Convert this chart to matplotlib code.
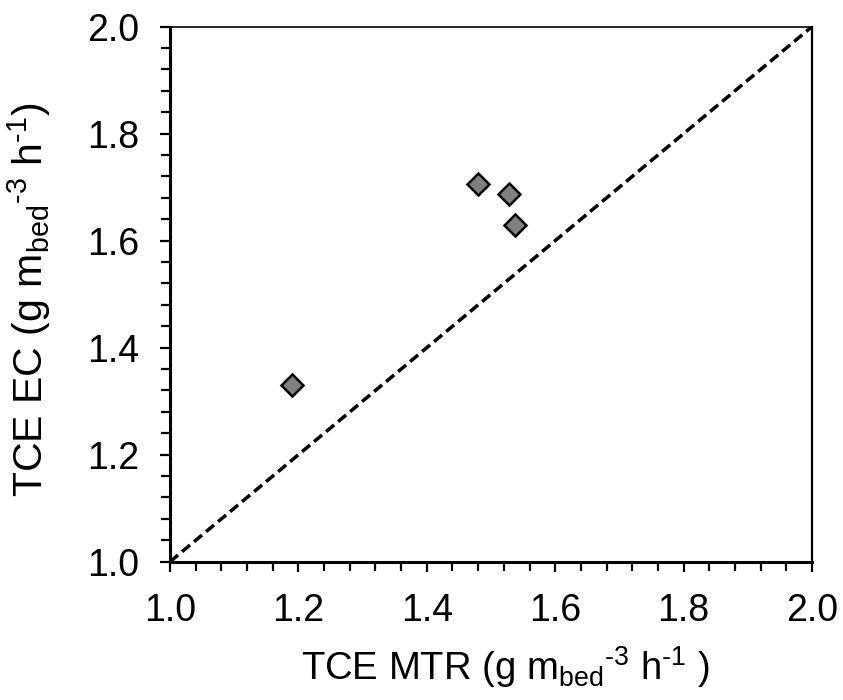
import matplotlib
matplotlib.use("Agg")
import matplotlib.pyplot as plt
from matplotlib.ticker import MultipleLocator

plt.rcParams['font.family'] = ['Liberation Sans', 'DejaVu Sans']
plt.rcParams['mathtext.fontset'] = 'custom'
plt.rcParams['mathtext.rm'] = 'Liberation Sans'
plt.rcParams['mathtext.it'] = 'Liberation Sans:italic'
plt.rcParams['mathtext.default'] = 'regular'

mtr = [1.190, 1.479, 1.528, 1.538]
ec = [1.330, 1.705, 1.687, 1.629]
line_x = [1.0, 2.0]
line_y = [1.0, 2.0]
ticks = [1.0, 1.2, 1.4, 1.6, 1.8, 2.0]

fig = plt.figure(figsize=(8.43, 7.0), dpi=100)
ax = fig.add_axes([0.2017, 0.1976, 0.7615, 0.7643])

ax.plot(line_x, line_y, color='black', lw=2.5, linestyle=(0, (3.0, 1.5)), zorder=2)
ax.plot(mtr, ec, linestyle='none', marker='D', markersize=11, markerfacecolor='#808080',
        markeredgecolor='black', markeredgewidth=1.8, zorder=3)

ax.set_xlim(1.0, 2.0)
ax.set_ylim(1.0, 2.0)
ax.set_xticks(ticks)
ax.set_yticks(ticks)
ax.set_xticklabels([f"{t:.1f}" for t in ticks])
ax.set_yticklabels([f"{t:.1f}" for t in ticks])
ax.xaxis.set_minor_locator(MultipleLocator(0.04))
ax.yaxis.set_minor_locator(MultipleLocator(0.04))

ax.spines['left'].set_linewidth(2.2)
ax.spines['bottom'].set_linewidth(2.2)
ax.spines['right'].set_linewidth(1.6)
ax.spines['top'].set_linewidth(1.2)

ax.tick_params(axis='both', which='major', direction='out', length=7.5, width=1.6,
               labelsize=27, top=False, right=False)
ax.tick_params(axis='both', which='minor', direction='out', length=6.5, width=1.6,
               top=False, right=False)
ax.tick_params(axis='x', which='major', pad=15)
ax.tick_params(axis='y', which='major', pad=15)

ax.set_xlabel(r'TCE MTR (g m$_{bed}$$^{\text{-3}}$ h$^{\text{-1}}$ )', fontsize=27.5)
ax.xaxis.set_label_coords(0.522, -0.155)
ax.xaxis.label.set_va('top')
ax.set_ylabel(r'TCE EC (g m$_{bed}$$^{\text{-3}}$ h$^{\text{-1}}$)', fontsize=29.5)
ax.yaxis.set_label_coords(-0.182, 0.4897)

fig.savefig('out.png', dpi=100)
